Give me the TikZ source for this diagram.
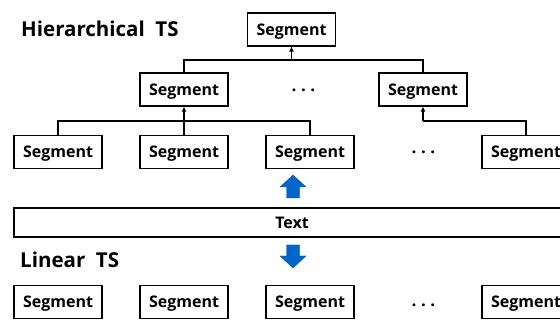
\documentclass[tikz,border=0pt]{standalone}
\usepackage{fontspec}
\setmainfont{Open Sans}
\usetikzlibrary{arrows.meta}
\definecolor{arrowblue}{RGB}{0,102,204}
\begin{document}
\begin{tikzpicture}[x=1pt,y=-1pt,
  seg/.style={draw, line width=1.1pt, minimum width=88pt, minimum height=33pt, inner sep=0pt, text height=12pt, text depth=0pt, font=\fontsize{16}{18}\selectfont\bfseries},
  link/.style={line width=1.1pt},
  up/.style={line width=1.1pt, -{Latex[length=5pt,width=5pt]}},
  dots/.style={anchor=base, inner sep=0pt, font=\fontsize{17}{18}\selectfont\bfseries},
  title/.style={anchor=west, inner sep=0pt, font=\fontsize{20.5}{24}\selectfont\bfseries},
  blockarrow/.style={fill=arrowblue, draw=arrowblue!80!black, line width=0.3pt}]
\useasboundingbox (0,0) rectangle (560,320);
\clip (0,0) rectangle (560,320);
% titles
\node[title] (t1) at (21,29) {Hierarchical\ \ TS};
\node[title] (t2) at (20,260) {Linear\ \ TS};
% hierarchy
\node[seg] (top) at (291.5,29.5) {Segment};
\node[seg] (l2a) at (184,89.5) {Segment};
\node[seg] (l2b) at (423,89.5) {Segment};
\node[dots] (d2) at (303.5,91.5) {.\hspace{4.5pt}.\hspace{4.5pt}.};
\node[seg] (l3a) at (58,152) {Segment};
\node[seg] (l3b) at (184,152) {Segment};
\node[seg] (l3c) at (310,152) {Segment};
\node[dots] (d3) at (423.5,154) {.\hspace{4.5pt}.\hspace{4.5pt}.};
\node[seg] (l3e) at (526,152) {Segment};
\coordinate (j1) at (291.5,60);
\coordinate (j2) at (184,121);
\coordinate (j3) at (423,121);
\draw[link] (l2a.north) |- (l2b.north |- j1) -- (l2b.north);
\draw[up] (j1) -- (top.south);
\draw[link] (l3a.north) |- (l3c.north |- j2) -- (l3c.north);
\draw[up] (l3b.north) -- (l2a.south);
\draw[link] (l3e.north) |- (j3);
\draw[up] (j3) -- (l2b.south);
% text bar
\node[draw, line width=1.1pt, minimum width=556pt, minimum height=29pt, inner sep=0pt, font=\fontsize{16}{18}\selectfont\bfseries] (txt) at (292,222.5) {Text};
% block arrows
\draw[blockarrow] (293,175) -- (306,187) -- (299.5,187) -- (299.5,198) -- (286.5,198) -- (286.5,187) -- (280,187) -- cycle;
\draw[blockarrow] (293,268) -- (306,256) -- (299.5,256) -- (299.5,245) -- (286.5,245) -- (286.5,256) -- (280,256) -- cycle;
% linear
\node[seg] (b1) at (58,302) {Segment};
\node[seg] (b2) at (184,302) {Segment};
\node[seg] (b3) at (310,302) {Segment};
\node[dots] (d4) at (423.5,306.5) {.\hspace{4.5pt}.\hspace{4.5pt}.};
\node[seg] (b5) at (526,302) {Segment};
\end{tikzpicture}
\end{document}
